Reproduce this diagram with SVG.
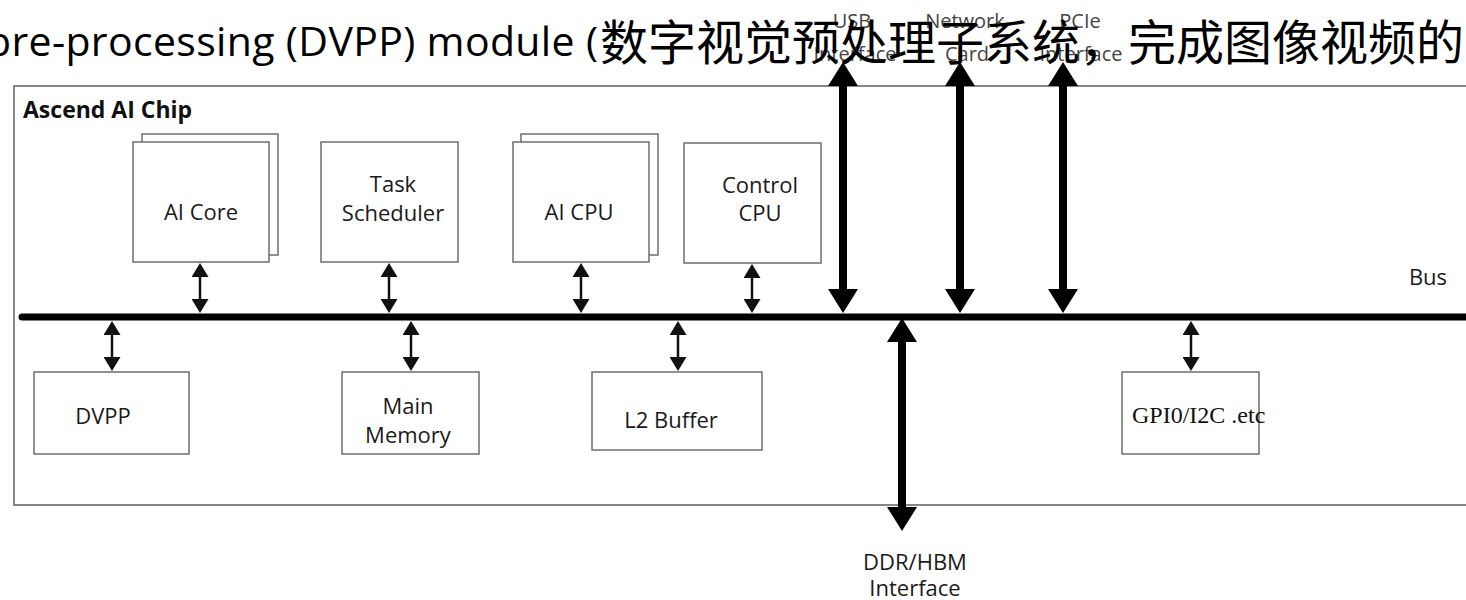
<svg xmlns="http://www.w3.org/2000/svg" width="1466" height="600" viewBox="0 0 1466 600">
<style>
.box{fill:#fff;stroke:#6e6e6e;stroke-width:1.5}
.lbl{font-family:"Open Sans","Noto Sans",sans-serif;font-size:22px;fill:#1a1a1a;text-anchor:middle}
.ext{font-family:"Open Sans","Noto Sans",sans-serif;font-size:20px;fill:#444;text-anchor:middle}
.sm{stroke:#111;stroke-width:2.5;fill:none;marker-start:url(#sa);marker-end:url(#sa)}
.big{stroke:#000;stroke-width:8;fill:none;marker-start:url(#ba);marker-end:url(#ba)}
</style>
<defs>
<marker id="sa" markerUnits="userSpaceOnUse" markerWidth="14" markerHeight="17" refX="5" refY="8.5" orient="auto-start-reverse" viewBox="0 0 14 17">
<path d="M0,0 L14,8.5 L0,17 z" fill="#111"/>
</marker>
<marker id="ba" markerUnits="userSpaceOnUse" markerWidth="24" markerHeight="30" refX="8" refY="15" orient="auto-start-reverse" viewBox="0 0 24 30">
<path d="M0,0 L24,15 L0,30 z" fill="#000"/>
</marker>
</defs>
<rect width="1466" height="600" fill="#fff"/>

<g id="chip">
<rect x="14" y="86" width="1470" height="419" fill="none" stroke="#7a7a7a" stroke-width="1.8"/>
<text x="23" y="118" font-family="'Open Sans','Noto Sans',sans-serif" font-size="23" font-weight="bold" fill="#111">Ascend AI Chip</text>
</g>

<g id="ai-core">
<rect class="box" x="142" y="134" width="136" height="121"/>
<rect class="box" x="133" y="142" width="136" height="120"/>
<text class="lbl" x="201" y="220">AI Core</text>
</g>
<g id="task-scheduler">
<rect class="box" x="321" y="142" width="137" height="120"/>
<text class="lbl" x="393" y="192">Task</text>
<text class="lbl" x="393" y="221">Scheduler</text>
</g>
<g id="ai-cpu">
<rect class="box" x="521" y="134" width="137" height="121"/>
<rect class="box" x="513" y="142" width="136" height="120"/>
<text class="lbl" x="579" y="220">AI CPU</text>
</g>
<g id="control-cpu">
<rect class="box" x="684" y="143" width="137" height="120"/>
<text class="lbl" x="760" y="193">Control</text>
<text class="lbl" x="760" y="221">CPU</text>
</g>
<g id="dvpp">
<rect class="box" x="34" y="372" width="155" height="82"/>
<text class="lbl" x="103" y="424">DVPP</text>
</g>
<g id="main-memory">
<rect class="box" x="342" y="372" width="137" height="82"/>
<text class="lbl" x="408" y="414">Main</text>
<text class="lbl" x="408" y="443">Memory</text>
</g>
<g id="l2-buffer">
<rect class="box" x="592" y="372" width="170" height="78"/>
<text class="lbl" x="671" y="428">L2 Buffer</text>
</g>
<g id="gpio">
<rect class="box" x="1122" y="372" width="137" height="82"/>
<text x="1132" y="423" font-family="'Liberation Serif',serif" font-size="24" fill="#111">GPI0/I2C .etc</text>
</g>

<g id="bus">
<line x1="22" y1="317" x2="1470" y2="317" stroke="#000" stroke-width="7" stroke-linecap="round"/>
<text class="lbl" x="1428" y="285">Bus</text>
</g>

<g id="connectors">
<line class="sm" x1="200" y1="272" x2="200" y2="304"/>
<line class="sm" x1="389" y1="272" x2="389" y2="304"/>
<line class="sm" x1="581" y1="272" x2="581" y2="304"/>
<line class="sm" x1="752" y1="273" x2="752" y2="304"/>
<line class="sm" x1="112" y1="330" x2="112" y2="362"/>
<line class="sm" x1="411" y1="330" x2="411" y2="362"/>
<line class="sm" x1="678" y1="330" x2="678" y2="362"/>
<line class="sm" x1="1191" y1="330" x2="1191" y2="362"/>
<line class="big" x1="843" y1="78" x2="843" y2="297"/>
<line class="big" x1="960" y1="78" x2="960" y2="297"/>
<line class="big" x1="1063" y1="78" x2="1063" y2="297"/>
<line class="big" x1="902" y1="334" x2="902" y2="515"/>
</g>

<g id="usb-interface">
<text class="ext" x="852" y="28">USB</text>
<text class="ext" x="855" y="61">Interface</text>
</g>
<g id="network-card">
<text class="ext" x="965" y="28">Network</text>
<text class="ext" x="967" y="61">Card</text>
</g>
<g id="pcie-interface">
<text class="ext" x="1080" y="28">PCIe</text>
<text class="ext" x="1081" y="61">Interface</text>
</g>
<g id="ddr-hbm">
<text class="lbl" x="915" y="570">DDR/HBM</text>
<text class="lbl" x="915" y="596">Interface</text>
</g>

<g id="title">
<text x="-14" y="56" font-family="'Open Sans','Noto Sans',sans-serif" font-size="41" fill="#000" textLength="612" lengthAdjust="spacing">pre-processing (DVPP) module (</text>
<text x="600" y="60" font-family="'Noto Sans CJK SC',sans-serif" font-size="48" fill="#000">数字视觉预处理子系统，完成图像视频的</text>
</g>
</svg>
